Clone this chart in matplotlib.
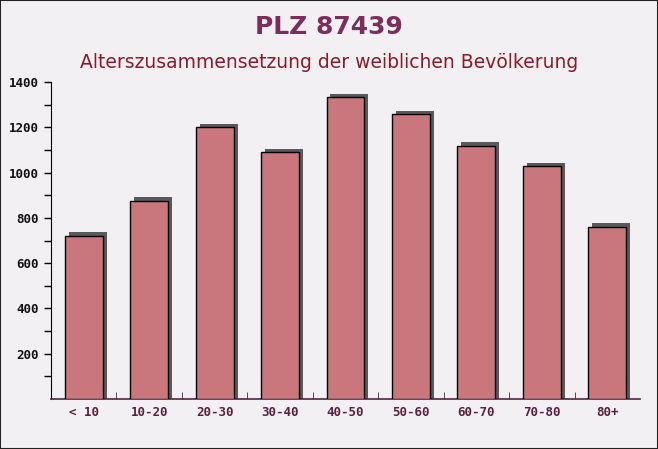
import matplotlib.pyplot as plt
import numpy as np

# Altersgruppen und Anzahl weiblicher Einwohner
categories = ['< 10', '10-20', '20-30', '30-40', '40-50', '50-60', '60-70', '70-80', '80+']
values = [720, 875, 1200, 1090, 1333, 1258, 1117, 1028, 760]

title = 'PLZ 87439'
subtitle = 'Alterszusammensetzung der weiblichen Bevölkerung'

fig = plt.figure(figsize=(6.58, 4.49), dpi=100)
fig.patch.set_facecolor('#f2f0f2')

ax = fig.add_axes([51 / 658, 1 - 399 / 449, (640 - 51) / 658, (399 - 82) / 449])
ax.set_facecolor('none')

x = np.arange(len(categories))
width = 0.58

# Schatten (3D-Effekt)
ax.bar(x + 0.06, values, width=width, bottom=0, color='#5a5a5a', zorder=2)
ax.bar(x + 0.06, [16] * len(values), width=width, bottom=values, color='#5a5a5a', zorder=2)
# Balken
ax.bar(x, values, width=width, color='#c9777c', edgecolor='black', linewidth=1.0, zorder=3)

ax.set_xlim(-0.5, len(categories) - 0.5)
ax.set_ylim(0, 1400)
ax.set_yticks(np.arange(200, 1401, 200))
ax.set_yticks(np.arange(100, 1400, 200), minor=True)
ax.set_xticks(x)
ax.set_xticklabels(categories)
ax.set_xticks(np.arange(0.5, len(categories) - 0.5, 1), minor=True)

ax.tick_params(axis='y', which='both', direction='out', length=5, width=1, color='black')
ax.tick_params(axis='x', which='major', length=0, pad=5)
ax.tick_params(axis='x', which='minor', direction='in', length=5, color='#5a2040')

for lbl in ax.get_yticklabels():
    lbl.set_fontfamily('DejaVu Sans Mono')
    lbl.set_fontweight('bold')
    lbl.set_fontsize(9)
    lbl.set_color('#111111')
for lbl in ax.get_xticklabels():
    lbl.set_fontfamily('DejaVu Sans Mono')
    lbl.set_fontweight('bold')
    lbl.set_fontsize(9)
    lbl.set_color('#5a2040')

ax.spines['top'].set_visible(False)
ax.spines['right'].set_visible(False)
ax.spines['left'].set_color('black')
ax.spines['bottom'].set_color('#5a2040')
ax.spines['bottom'].set_linewidth(1.2)

fig.text(0.5, 1 - 27 / 449, title, ha='center', va='center', fontsize=18,
         fontweight='bold', color='#7b2d5c', family='DejaVu Sans')
fig.text(0.5, 1 - 62 / 449, subtitle, ha='center', va='center', fontsize=13.5,
         color='#8b1a2a', family='DejaVu Sans')

# Rahmen um die Grafik
fig.add_artist(plt.Rectangle((0, 0), 1, 1, transform=fig.transFigure, fill=False,
                             edgecolor='#222222', linewidth=1.5))

fig.savefig('out.png', dpi=100, facecolor=fig.get_facecolor())
